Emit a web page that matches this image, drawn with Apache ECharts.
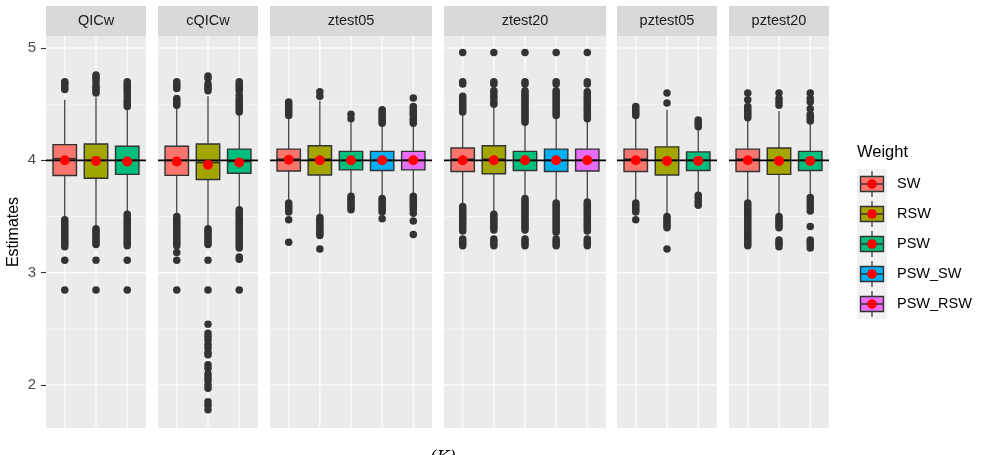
<!DOCTYPE html>
<html>
<head>
<meta charset="utf-8">
<script src="https://cdn.jsdelivr.net/npm/echarts@6/dist/echarts.min.js"></script>
<style>html,body{margin:0;padding:0;background:#fff}#c{width:984px;height:455px}</style>
</head>
<body>
<div id="c"></div>
<script>
// ---------- data ----------
const panelNames = ['QICw', 'cQICw', 'ztest05', 'ztest20', 'pztest05', 'pztest20'];
const weightNames = ['SW', 'RSW', 'PSW', 'PSW_SW', 'PSW_RSW'];
const weightColors = ['#F8766D', '#A3A500', '#00BF7D', '#00B0F6', '#E76BF3'];
const yTickValues = [2, 3, 4, 5];
const yMinorValues = [2.5, 3.5, 4.5];
const refValue = 4;

// box stats: [lower whisker, Q1, median, Q3, upper whisker]
const qicwStats = [[3.48, 3.865, 4.015, 4.14, 4.54], [3.41, 3.84, 4.0, 4.145, 4.56], [3.54, 3.875, 4.0, 4.125, 4.45]];
const qicwMeans = [4.0, 3.995, 3.99];
const qicwOutliers = [
  [4.63, 4.65, 4.67, 4.69, 4.70, 3.47, 3.45, 3.43, 3.41, 3.39, 3.37, 3.35, 3.33, 3.31, 3.29, 3.27, 3.25, 3.23, 3.11, 2.845],
  [4.60, 4.62, 4.64, 4.66, 4.69, 4.72, 4.74, 4.76, 3.39, 3.37, 3.35, 3.33, 3.31, 3.29, 3.27, 3.25, 3.11, 2.845],
  [4.48, 4.50, 4.52, 4.54, 4.57, 4.60, 4.62, 4.64, 4.66, 4.68, 4.70, 3.52, 3.50, 3.48, 3.46, 3.44, 3.42, 3.40, 3.38, 3.36, 3.34, 3.32, 3.30, 3.28, 3.26, 3.24, 3.11, 2.845]
];

const cqicwStats = [[3.52, 3.866, 4.0, 4.125, 4.47], [3.41, 3.83, 3.98, 4.145, 4.57], [3.58, 3.885, 3.99, 4.10, 4.41]];
const cqicwMeans = [3.99, 3.96, 3.98];
const cqicwOutliers = [
  [4.64, 4.66, 4.68, 4.70, 4.49, 4.51, 4.53, 4.55, 3.50, 3.48, 3.46, 3.44, 3.42, 3.40, 3.38, 3.36, 3.34, 3.32, 3.30, 3.28, 3.26, 3.24, 3.18, 3.11, 2.845],
  [4.62, 4.64, 4.66, 4.68, 4.73, 4.75, 3.39, 3.37, 3.35, 3.33, 3.31, 3.29, 3.27, 3.25, 3.11, 2.845, 2.54, 2.46, 2.43, 2.40, 2.36, 2.33, 2.29, 2.27, 2.18, 2.15, 2.10, 2.07, 2.04, 2.00, 1.97, 1.85, 1.82, 1.78],
  [4.43, 4.45, 4.47, 4.49, 4.51, 4.53, 4.55, 4.58, 4.62, 4.64, 4.66, 4.68, 4.70, 3.56, 3.54, 3.52, 3.50, 3.48, 3.46, 3.44, 3.42, 3.40, 3.38, 3.36, 3.34, 3.32, 3.30, 3.28, 3.26, 3.24, 3.22, 3.14, 3.12, 2.845]
];

const ztest05Stats = [[3.64, 3.905, 4.01, 4.10, 4.38], [3.51, 3.87, 4.01, 4.13, 4.53], [3.70, 3.915, 4.0, 4.08, 4.34], [3.68, 3.91, 4.0, 4.08, 4.31], [3.70, 3.915, 4.0, 4.08, 4.31]];
const ztest05Means = [4.005, 4.0, 4.0, 4.0, 4.0];
const ztest05Outliers = [
  [4.40, 4.42, 4.44, 4.46, 4.48, 4.50, 4.52, 3.62, 3.60, 3.58, 3.56, 3.54, 3.47, 3.27],
  [4.57, 4.61, 3.49, 3.47, 3.45, 3.43, 3.41, 3.39, 3.37, 3.35, 3.33, 3.21],
  [4.37, 4.41, 3.68, 3.66, 3.64, 3.62, 3.60, 3.58, 3.56],
  [4.33, 4.35, 4.37, 4.39, 4.41, 4.43, 4.45, 3.66, 3.64, 3.62, 3.60, 3.58, 3.56, 3.54, 3.48],
  [4.33, 4.35, 4.37, 4.40, 4.42, 4.44, 4.46, 4.48, 4.555, 3.68, 3.66, 3.64, 3.62, 3.60, 3.58, 3.56, 3.53, 3.46, 3.34]
];

const ztest20Stats = [[3.61, 3.90, 4.01, 4.11, 4.41], [3.54, 3.88, 4.01, 4.13, 4.48], [3.68, 3.91, 4.0, 4.08, 4.32], [3.64, 3.90, 4.0, 4.10, 4.38], [3.65, 3.905, 4.0, 4.10, 4.35]];
const ztest20Means = [4.0, 4.0, 4.0, 4.0, 4.0];
const ztest20Outliers = [
  [4.43, 4.45, 4.47, 4.49, 4.51, 4.53, 4.55, 4.57, 4.68, 4.70, 4.96, 3.59, 3.57, 3.55, 3.53, 3.51, 3.49, 3.47, 3.45, 3.43, 3.41, 3.39, 3.37, 3.30, 3.28, 3.26, 3.24],
  [4.50, 4.52, 4.55, 4.57, 4.60, 4.62, 4.68, 4.70, 4.96, 3.52, 3.50, 3.48, 3.46, 3.44, 3.42, 3.40, 3.38, 3.30, 3.28, 3.26, 3.24],
  [4.34, 4.36, 4.38, 4.40, 4.42, 4.44, 4.46, 4.48, 4.50, 4.52, 4.54, 4.56, 4.58, 4.60, 4.62, 4.68, 4.70, 4.96, 3.66, 3.64, 3.62, 3.60, 3.58, 3.56, 3.54, 3.52, 3.50, 3.48, 3.46, 3.44, 3.42, 3.40, 3.38, 3.30, 3.28, 3.26, 3.24],
  [4.40, 4.42, 4.44, 4.46, 4.48, 4.50, 4.52, 4.54, 4.56, 4.58, 4.60, 4.62, 4.68, 4.70, 4.96, 3.62, 3.60, 3.58, 3.56, 3.54, 3.52, 3.50, 3.48, 3.46, 3.44, 3.42, 3.40, 3.38, 3.36, 3.30, 3.28, 3.26, 3.24],
  [4.37, 4.39, 4.41, 4.43, 4.45, 4.47, 4.49, 4.51, 4.53, 4.55, 4.57, 4.59, 4.61, 4.68, 4.70, 4.96, 3.63, 3.61, 3.59, 3.57, 3.55, 3.53, 3.51, 3.49, 3.47, 3.45, 3.43, 3.41, 3.39, 3.37, 3.30, 3.28, 3.26, 3.24]
];

const pztest05Stats = [[3.65, 3.90, 4.01, 4.10, 4.38], [3.52, 3.87, 4.0, 4.12, 4.45], [3.71, 3.91, 4.0, 4.075, 4.28]];
const pztest05Means = [4.0, 3.995, 3.995];
const pztest05Outliers = [
  [4.40, 4.42, 4.44, 4.46, 4.48, 3.62, 3.60, 3.58, 3.56, 3.54, 3.47],
  [4.51, 4.60, 3.50, 3.48, 3.46, 3.44, 3.42, 3.40, 3.21],
  [4.30, 4.32, 4.34, 4.36, 3.69, 3.67, 3.64, 3.62, 3.60]
];

const pztest20Stats = [[3.64, 3.90, 4.01, 4.10, 4.36], [3.52, 3.875, 4.0, 4.11, 4.44], [3.68, 3.91, 4.0, 4.08, 4.32]];
const pztest20Means = [4.0, 3.995, 3.995];
const pztest20Outliers = [
  [4.38, 4.40, 4.42, 4.44, 4.46, 4.48, 4.54, 4.60, 3.62, 3.60, 3.58, 3.56, 3.54, 3.52, 3.50, 3.48, 3.46, 3.44, 3.42, 3.40, 3.38, 3.36, 3.34, 3.32, 3.30, 3.28, 3.26, 3.24],
  [4.49, 4.52, 4.55, 4.60, 3.50, 3.48, 3.46, 3.44, 3.42, 3.40, 3.29, 3.27, 3.25, 3.23],
  [4.35, 4.37, 4.39, 4.41, 4.46, 4.52, 4.55, 4.60, 3.67, 3.64, 3.61, 3.58, 3.55, 3.41, 3.29, 3.27, 3.25, 3.22]
];

const panelStats = [qicwStats, cqicwStats, ztest05Stats, ztest20Stats, pztest05Stats, pztest20Stats];
const panelMeans = [qicwMeans, cqicwMeans, ztest05Means, ztest20Means, pztest05Means, pztest20Means];
const panelOutliers = [qicwOutliers, cqicwOutliers, ztest05Outliers, ztest20Outliers, pztest05Outliers, pztest20Outliers];

// ---------- layout ----------
const FONT = '"Liberation Sans", Arial, Helvetica, sans-serif';
const panelLeft = [46, 158, 270, 444, 617, 729];
const panelWidth = [100, 100, 162, 162, 100, 100];
const panelTop = 36, panelHeight = 392;
const yMin = 1.617, yMax = 5.107;

function renderGridLines(params, api) {
  const kind = api.value(0), v = api.value(1);
  const cs = params.coordSys;
  if (kind === 2) {
    const p = api.coord([v, 3]);
    return { type: 'line', shape: { x1: p[0], y1: cs.y, x2: p[0], y2: cs.y + cs.height }, style: { stroke: '#FFFFFF', lineWidth: 1.1 } };
  }
  const p = api.coord([1, v]);
  return { type: 'line', shape: { x1: cs.x, y1: p[1], x2: cs.x + cs.width, y2: p[1] }, style: { stroke: '#FFFFFF', lineWidth: kind === 0 ? 1.1 : 0.55 } };
}
function renderRef(params, api) {
  const cs = params.coordSys;
  const p = api.coord([1, api.value(1)]);
  return { type: 'line', shape: { x1: cs.x, y1: p[1], x2: cs.x + cs.width, y2: p[1] }, style: { stroke: '#000000', lineWidth: 1.6 } };
}
function renderBox(params, api) {
  const x = api.value(0);
  const lo = api.coord([x, api.value(1)]);
  const q1 = api.coord([x, api.value(2)]);
  const md = api.coord([x, api.value(3)]);
  const q3 = api.coord([x, api.value(4)]);
  const hi = api.coord([x, api.value(5)]);
  const w = api.size([0.75, 0])[0];
  const color = weightColors[api.value(6)];
  const st = { stroke: '#333333', lineWidth: 1.2 };
  return { type: 'group', children: [
    { type: 'line', shape: { x1: hi[0], y1: hi[1], x2: q3[0], y2: q3[1] }, style: st },
    { type: 'line', shape: { x1: q1[0], y1: q1[1], x2: lo[0], y2: lo[1] }, style: st },
    { type: 'rect', shape: { x: q3[0] - w / 2, y: q3[1], width: w, height: q1[1] - q3[1] }, style: { fill: color, stroke: '#333333', lineWidth: 1.4 } },
    { type: 'line', shape: { x1: md[0] - w / 2, y1: md[1], x2: md[0] + w / 2, y2: md[1] }, style: { stroke: '#333333', lineWidth: 1.6 } }
  ] };
}

const grids = [], xAxes = [], yAxes = [], series = [], graphics = [];
panelNames.forEach((name, i) => {
  const n = panelStats[i].length;
  grids.push({ left: panelLeft[i], top: panelTop, width: panelWidth[i], height: panelHeight, show: true, backgroundColor: '#EBEBEB', borderWidth: 0 });
  xAxes.push({ type: 'value', gridIndex: i, min: 0.4, max: n + 0.6, axisLabel: { show: false }, axisTick: { show: false }, axisLine: { show: false }, splitLine: { show: false } });
  const ya = { type: 'value', gridIndex: i, min: yMin, max: yMax, splitLine: { show: false }, axisLine: { show: false } };
  if (i === 0) {
    ya.axisTick = { show: true, length: 5, customValues: yTickValues, lineStyle: { color: '#333333', width: 1.1 } };
    ya.axisLabel = { show: true, customValues: yTickValues, margin: 10, color: '#4D4D4D', fontSize: 15, fontFamily: FONT };
    ya.name = 'Estimates'; ya.nameLocation = 'middle'; ya.nameGap = 24; ya.nameRotate = 90;
    ya.nameTextStyle = { fontSize: 16, color: '#000000', fontFamily: FONT };
  } else {
    ya.axisTick = { show: false }; ya.axisLabel = { show: false };
  }
  yAxes.push(ya);

  const gridData = [];
  yTickValues.forEach(v => gridData.push([0, v]));
  yMinorValues.forEach(v => gridData.push([1, v]));
  for (let k = 1; k <= n; k++) gridData.push([2, k]);
  series.push({ type: 'custom', xAxisIndex: i, yAxisIndex: i, z: 1, silent: true, renderItem: renderGridLines, data: gridData, encode: { x: 1, y: 1 } });

  const boxData = panelStats[i].map((s, k) => [k + 1, s[0], s[1], s[2], s[3], s[4], k]);
  series.push({ type: 'custom', xAxisIndex: i, yAxisIndex: i, z: 3, silent: true, renderItem: renderBox, data: boxData, encode: { x: 0, y: [1, 2, 3, 4, 5] } });

  const outData = [];
  panelOutliers[i].forEach((arr, k) => arr.forEach(v => outData.push([k + 1, v])));
  series.push({ type: 'scatter', xAxisIndex: i, yAxisIndex: i, z: 4, silent: true, symbolSize: 7.5, itemStyle: { color: '#333333', opacity: 1 }, data: outData });

  series.push({ type: 'custom', xAxisIndex: i, yAxisIndex: i, z: 5, silent: true, renderItem: renderRef, data: [[1, refValue]], encode: { x: 0, y: 1 } });

  series.push({ type: 'scatter', xAxisIndex: i, yAxisIndex: i, z: 6, silent: true, symbolSize: 10, itemStyle: { color: '#FF0000', opacity: 1 }, data: panelMeans[i].map((m, k) => [k + 1, m]) });

  // strip
  graphics.push({ type: 'rect', shape: { x: panelLeft[i], y: 6, width: panelWidth[i], height: 30 }, style: { fill: '#D9D9D9' }, silent: true });
  graphics.push({ type: 'text', x: panelLeft[i] + panelWidth[i] / 2, y: 21, style: { text: name, fill: '#1A1A1A', font: '14.5px ' + FONT, textAlign: 'center', textVerticalAlign: 'middle' }, silent: true });
});

// legend (drawn with graphic elements)
const legX = 857, legY = 169, keyH = 30, keyW = 30;
graphics.push({ type: 'text', x: legX, y: 152, style: { text: 'Weight', fill: '#000000', font: '16.5px ' + FONT, textVerticalAlign: 'middle' }, silent: true });
graphics.push({ type: 'rect', shape: { x: legX, y: legY, width: keyW, height: keyH * weightNames.length }, style: { fill: '#F2F2F2' }, silent: true });
weightNames.forEach((w, k) => {
  const cy = legY + keyH * k + keyH / 2, cx = legX + keyW / 2;
  graphics.push({ type: 'line', shape: { x1: cx, y1: cy - 13, x2: cx, y2: cy + 13 }, style: { stroke: '#333333', lineWidth: 1.2 }, silent: true });
  graphics.push({ type: 'rect', shape: { x: cx - 11.5, y: cy - 7.5, width: 23, height: 15 }, style: { fill: weightColors[k], stroke: '#333333', lineWidth: 1.4 }, silent: true });
  graphics.push({ type: 'line', shape: { x1: cx - 11.5, y1: cy, x2: cx + 11.5, y2: cy }, style: { stroke: '#333333', lineWidth: 1.5 }, silent: true });
  graphics.push({ type: 'circle', shape: { cx: cx, cy: cy, r: 4.8 }, style: { fill: '#FF0000' }, silent: true });
  graphics.push({ type: 'text', x: 897, y: cy, style: { text: w, fill: '#000000', font: '14.5px ' + FONT, textVerticalAlign: 'middle' }, silent: true });
});
// x-axis title (mostly clipped at the bottom edge)
graphics.push({ type: 'text', x: 443, y: 449, style: { text: '(K)', fill: '#000000', font: 'italic 17px "DejaVu Serif", serif', textAlign: 'center', textVerticalAlign: 'top' }, silent: true });

const chart = echarts.init(document.getElementById('c'), null, { renderer: 'canvas' });
chart.setOption({
  animation: false,
  backgroundColor: '#FFFFFF',
  grid: grids,
  xAxis: xAxes,
  yAxis: yAxes,
  series: series,
  graphic: graphics
});
</script>
</body>
</html>
